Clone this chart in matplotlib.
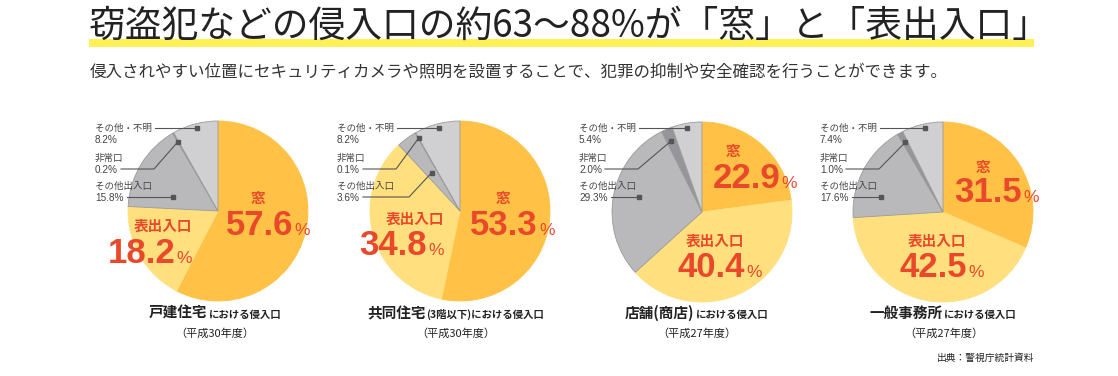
import matplotlib
matplotlib.use("Agg")
import matplotlib.pyplot as plt
import numpy as np

plt.rcParams['font.family'] = ['Noto Sans CJK JP', 'DejaVu Sans']

# データ
categories = ['窓', '表出入口', 'その他出入口', '非常口', 'その他・不明']
house = [57.6, 18.2, 15.8, 0.2, 8.2]
apartment = [53.3, 34.8, 3.6, 0.1, 8.2]
shop = [22.9, 40.4, 29.3, 2.0, 5.4]
office = [31.5, 42.5, 17.6, 1.0, 7.4]
series = [house, apartment, shop, office]
pie_titles = ['戸建住宅', '共同住宅', '店舗(商店)', '一般事務所']
pie_subtitles = ['における侵入口', '(3階以下)における侵入口', 'における侵入口', 'における侵入口']
pie_years = ['（平成30年度）', '（平成30年度）', '（平成27年度）', '（平成27年度）']

title = '窃盗犯などの侵入口の約63〜88%が「窓」と「表出入口」'
subtitle = '侵入されやすい位置にセキュリティカメラや照明を設置することで、犯罪の抑制や安全確認を行うことができます。'
source = '出典：警視庁統計資料'

colors = ['#FFC246', '#FFDF7E', '#B9B9BC', '#96969A', '#D0D0D3']
red = '#E9482A'
grey_txt = '#444444'

W, H = 1118, 376
fig = plt.figure(figsize=(W / 100, H / 100), dpi=100)
ax = fig.add_axes([0, 0, 1, 1])

def fix_axes():
    ax.set_xlim(0, W)
    ax.set_ylim(0, H)
    ax.set_aspect('auto')
    ax.axis('off')

def py(y):  # 上からのピクセル -> データ座標
    return H - y

# レイアウト（ピクセル）
centers = [(218, 211), (460, 211), (702, 212), (943, 212)]
R = 90
big_pos = [  # (窓ラベル, 窓数字split/baseline, 表ラベル, 表数字split/baseline)
    ((258, 198), (293, 235), (163, 226), (175, 263)),
    ((503, 198), (538, 235), (415, 219), (427, 255)),
    ((733, 151), (780, 188), (715, 241), (745, 277)),
    ((983, 167), (1022, 202), (937, 241), (967, 277)),
]
# 引き出し線の点: (wedge内の時計回り割合, 半径比)
dot_param = [
    {2: (0.27, 0.53), 3: (0.5, 0.89), 4: (0.52, 0.95)},
    {2: (0.5, 0.53), 3: (0.5, 0.93), 4: (0.52, 0.96)},
    {2: (0.53, 0.72), 3: (0.42, 0.86), 4: (0.48, 0.95)},
    {2: (0.29, 0.71), 3: (0.5, 0.88), 4: (0.545, 0.95)},
]
title_left = [149, 367, 625, 870]

renderer = fig.canvas.get_renderer()
num_font = ['Liberation Sans', 'DejaVu Sans']

for i, vals in enumerate(series):
    cx, cy = centers[i]
    wedges, _ = ax.pie(vals, colors=colors, startangle=90, counterclock=False,
                       center=(cx, py(cy)), radius=R, frame=True,
                       wedgeprops=dict(linewidth=0.6, edgecolor='#9a9a9a'))
    fix_axes()
    for w in wedges[:2]:
        w.set_edgecolor(w.get_facecolor())

    # 窓・表出入口の大きな数字
    (l1, n1, l2, n2) = big_pos[i]
    for lab, (lx, ly), (sx, by), v in [(categories[0], l1, n1, vals[0]),
                                        (categories[1], l2, n2, vals[1])]:
        ax.text(lx, py(ly), lab, color=red, fontsize=10.5, fontweight='bold',
                ha='center', va='center')
        ax.text(sx, py(by), f'{v:.1f}', color=red, fontsize=25, fontweight='bold',
                ha='right', va='baseline', family=num_font)
        ax.text(sx + 1, py(by), '%', color=red, fontsize=12.5,
                ha='left', va='baseline', family=num_font)

    # 引き出しラベル
    lx = cx - 123
    label_rows = {4: 128, 3: 158, 2: 186}
    for k in [4, 3, 2]:
        y0 = label_rows[k]
        t_name = ax.text(lx, py(y0), categories[k], fontsize=6.8, color=grey_txt,
                         ha='left', va='center')
        t_val = ax.text(lx, py(y0 + 12), f'{vals[k]:.1f}%', fontsize=7.2, color=grey_txt,
                        ha='left', va='center', family=num_font)
        w = wedges[k]
        f, rr = dot_param[i][k]
        ang = np.deg2rad(w.theta2 - f * (w.theta2 - w.theta1))
        dx = cx + rr * R * np.cos(ang)
        dy = py(cy) + rr * R * np.sin(ang)
        if k == 4:
            bb = t_name.get_window_extent(renderer)
            ly_line = py(y0)
        else:
            bb = t_val.get_window_extent(renderer)
            ly_line = py(y0 + 11)
        x0 = bb.x1 + 3
        xs, ys = [x0], [ly_line]
        if k == 3:
            xs.append(cx - 64); ys.append(ly_line)
        elif k == 2 and abs(dy - ly_line) > 6:
            xs.append(cx - 51); ys.append(ly_line)
        else:
            dy = ly_line
        xs.append(dx); ys.append(dy)
        ax.plot(xs, ys, color='#555555', lw=0.8)
        ax.plot([dx], [dy], 's', color='#555555', ms=2.5)

    # 下のタイトル
    t1 = ax.text(title_left[i], py(318), pie_titles[i], fontsize=10.5, fontweight='bold',
                 color='#222222', ha='left', va='baseline')
    bb = t1.get_window_extent(renderer)
    t2 = ax.text(bb.x1 + 1, py(318), pie_subtitles[i], fontsize=7.5, fontweight='bold',
                 color='#222222', ha='left', va='baseline')
    bb2 = t2.get_window_extent(renderer)
    mid = (bb.x0 + bb2.x1) / 2
    ax.text(mid, py(334), pie_years[i], fontsize=8, color='#222222',
            ha='center', va='center')

# タイトル
ax.fill_between([89, 1034], py(47), py(39), color='#FFF056', lw=0, zorder=1)
ax.text(88, py(26), title, fontsize=26.5, color='#222222', ha='left', va='center', zorder=2)
ax.text(90, py(73), subtitle, fontsize=11.9, color='#333333', ha='left', va='center')
ax.text(1034, py(358), source, fontsize=7, color='#222222', ha='right', va='center')

fix_axes()

fig.savefig('out.png', dpi=100, facecolor='white')
